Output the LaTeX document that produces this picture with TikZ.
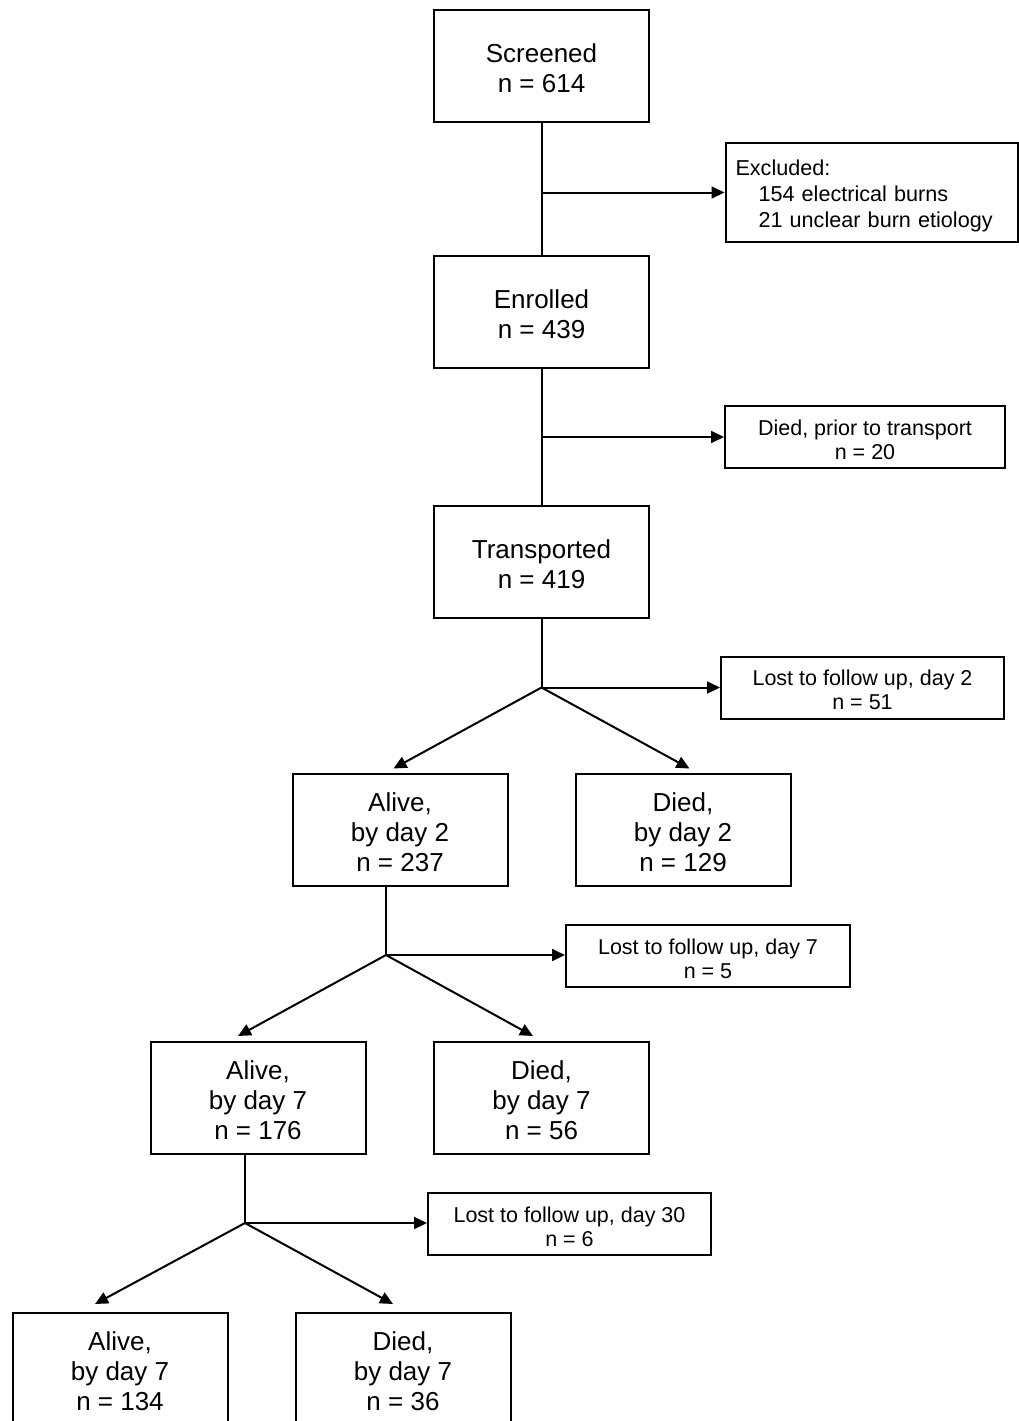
\documentclass[tikz,border=0pt]{standalone}
\usepackage{fontspec}
\setmainfont{Liberation Sans}
\usetikzlibrary{arrows.meta,calc}
\newcommand{\bigstrut}{\rule{0pt}{23.5pt}}
\newcommand{\smallstrut}{\rule{0pt}{20.5pt}}
\begin{document}
\begin{tikzpicture}[x=1pt,y=-1pt,
  bigbox/.style={draw, line width=2pt, minimum width=215pt, minimum height=112pt, inner sep=0pt, align=center, font=\fontsize{26}{30}\selectfont},
  smallbox/.style={draw, line width=2pt, minimum height=62pt, inner sep=0pt, align=center, font=\fontsize{21.5}{24}\selectfont},
  conn/.style={line width=2pt},
  arr/.style={line width=2pt, -{Triangle[length=13pt,width=12pt]}}]
\fill[white] (0,0) rectangle (1019,1421);
\useasboundingbox (0,0) rectangle (1019,1421);
\clip (0,0) rectangle (1019,1421);
% main boxes
\node[bigbox] (scr) at (541.5,66) {\bigstrut Screened\\n = 614};
\node[bigbox] (enr) at (541.5,312) {\bigstrut Enrolled\\n = 439};
\node[bigbox] (tra) at (541.5,562) {\bigstrut Transported\\n = 419};
\node[bigbox] (alive2) at (400,830) {\bigstrut Alive,\\by day 2\\n = 237};
\node[bigbox] (died2) at (683,830) {\bigstrut Died,\\by day 2\\n = 129};
\node[bigbox] (alive7) at (258,1098) {\bigstrut Alive,\\by day 7\\n = 176};
\node[bigbox] (died7) at (541.5,1098) {\bigstrut Died,\\by day 7\\n = 56};
\node[bigbox] (alive30) at (120,1369) {\bigstrut Alive,\\by day 7\\n = 134};
\node[bigbox] (died30) at (403,1369) {\bigstrut Died,\\by day 7\\n = 36};
% side boxes
\node[draw, line width=2pt, minimum height=99pt, inner xsep=10pt, inner ysep=0pt, text width=272pt, align=left, font=\fontsize{21.6}{26}\selectfont] (excl) at (871.5,192.5)
  {\rule{0pt}{21.5pt}Excluded:\\\hspace*{23pt}154 electrical burns\\\hspace*{23pt}21 unclear burn etiology};
\node[smallbox, minimum width=280pt] (diedpt) at (865,437) {\smallstrut Died, prior to transport\\n = 20};
\node[smallbox, minimum width=283pt] (lost2) at (862.5,687.5) {\smallstrut Lost to follow up, day 2\\n = 51};
\node[smallbox, minimum width=284pt] (lost7) at (708,956) {\smallstrut Lost to follow up, day 7\\n = 5};
\node[smallbox, minimum width=283pt] (lost30) at (569.5,1224) {\smallstrut Lost to follow up, day 30\\n = 6};
% branch points
\coordinate (b1) at (541.5,192.5);
\coordinate (b2) at (541.5,437);
\coordinate (b3) at (541.5,687.5);
\coordinate (b4) at (386,955);
\coordinate (b5) at (245,1223);
\coordinate (t3l) at ($(b3)+(-148,81)$);
\coordinate (t3r) at ($(b3)+(148,81)$);
\coordinate (t4l) at ($(b4)+(-148,81)$);
\coordinate (t4r) at ($(b4)+(147,81)$);
\coordinate (t5l) at ($(b5)+(-150,81)$);
\coordinate (t5r) at ($(b5)+(148,81)$);
% connectors
\draw[conn] (scr.south) -- (enr.north);
\draw[conn] (enr.south) -- (tra.north);
\draw[conn] (tra.south) -- (b3);
\draw[conn] (alive2.south -| b4) -- (b4);
\draw[conn] (alive7.south -| b5) -- (b5);
\draw[arr] (b1) -- (b1 -| excl.west);
\draw[arr] (b2) -- (b2 -| diedpt.west);
\draw[arr] (b3) -- (b3 -| lost2.west);
\draw[arr] (b4) -- (b4 -| lost7.west);
\draw[arr] (b5) -- (b5 -| lost30.west);
\draw[arr] (b3) -- (t3l);
\draw[arr] (b3) -- (t3r);
\draw[arr] (b4) -- (t4l);
\draw[arr] (b4) -- (t4r);
\draw[arr] (b5) -- (t5l);
\draw[arr] (b5) -- (t5r);
\end{tikzpicture}
\end{document}
